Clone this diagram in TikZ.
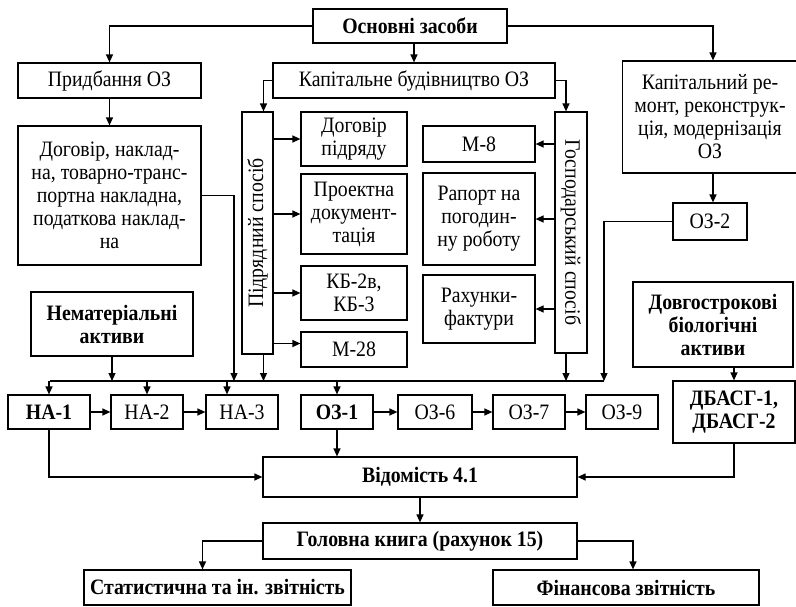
\documentclass[tikz,border=0pt]{standalone}
\usepackage{fontspec}
\setmainfont{Liberation Serif}[FakeStretch=0.9]
\usepackage{graphicx}
\usetikzlibrary{arrows.meta}

\begin{document}
\begin{tikzpicture}[x=1pt,y=-1pt,line width=1.2pt,>={Triangle[length=8pt,width=7pt]},
  box/.style={draw,align=center,inner sep=1pt,font=\fontsize{22}{23}\selectfont},
  bbox/.style={box,font=\fontsize{22}{23}\selectfont\bfseries}]
  \useasboundingbox (0,0) rectangle (796,606);
  % верхній рівень
  \node[bbox,minimum width=194,minimum height=34] (osn) at (410,26) {Основні засоби};
  \node[box,minimum width=183,minimum height=35] (prid) at (109.5,80.5) {Придбання ОЗ};
  \node[box,minimum width=183,minimum height=139] (dog) at (109.5,195.5)
    {Договір, наклад-\\на, товарно-транс-\\портна накладна,\\податкова наклад-\\на};
  \node[box,minimum width=282,minimum height=35] (kapbud) at (414,80.5) {Капітальне будівництво ОЗ};
  \node[box,minimum width=175,minimum height=112] (kaprem) at (710,117)
    {Капітальний ре-\\монт, реконструк-\\ція, модернізація\\ОЗ};
  \node[box,minimum width=74,minimum height=37] (oz2) at (710,221.5) {ОЗ-2};
  % підрядний спосіб
  \node[box,minimum width=31,minimum height=242] (pidr) at (257.5,233) {\rotatebox{90}{Підрядний спосіб}};
  \node[box,minimum width=106,minimum height=54] (dogpid) at (354,139) {Договір\\підряду};
  \node[box,minimum width=106,minimum height=80] (proekt) at (354,214) {Проектна\\документ-\\тація};
  \node[box,minimum width=106,minimum height=54] (kb) at (354,293) {КБ-2в,\\КБ-3};
  \node[box,minimum width=106,minimum height=35] (m28) at (354,349.5) {М-28};
  % господарський спосіб
  \node[box,minimum width=32,minimum height=241] (hosp) at (571,232.5) {\rotatebox{-90}{Господарський спосіб}};
  \node[box,minimum width=112,minimum height=36] (m8) at (479,144) {М-8};
  \node[box,minimum width=112,minimum height=92] (raport) at (479,219) {Рапорт на\\погодин-\\ну роботу};
  \node[box,minimum width=112,minimum height=68] (rakh) at (479,309) {Рахунки-\\фактури};
  % активи
  \node[bbox,minimum width=162,minimum height=64] (nema) at (112,324) {Нематеріальні\\активи};
  \node[bbox,minimum width=160,minimum height=85] (dba) at (713,324.5) {Довгострокові\\біологічні\\активи};
  \node[bbox,minimum width=122,minimum height=62] (dbasg) at (734,412) {ДБАСГ-1,\\ДБАСГ-2};
  % первинні документи
  \node[bbox,minimum width=82,minimum height=34] (na1) at (49,412) {НА-1};
  \node[box,minimum width=72,minimum height=34] (na2) at (147,412) {НА-2};
  \node[box,minimum width=72,minimum height=34] (na3) at (242,412) {НА-3};
  \node[bbox,minimum width=72,minimum height=34] (oz1) at (337,412) {ОЗ-1};
  \node[box,minimum width=74,minimum height=34] (oz6) at (435,412) {ОЗ-6};
  \node[box,minimum width=72,minimum height=34] (oz7) at (529,412) {ОЗ-7};
  \node[box,minimum width=72,minimum height=34] (oz9) at (622,412) {ОЗ-9};
  % зведення і звітність
  \node[bbox,minimum width=314,minimum height=40] (vid) at (420,477) {Відомість 4.1};
  \node[bbox,minimum width=314,minimum height=36] (hol) at (420,541) {Головна книга (рахунок 15)};
  \node[bbox,minimum width=267,minimum height=35] (stat) at (217.5,587.5) {Статистична та ін. звітність};
  \node[bbox,minimum width=266,minimum height=35] (fin) at (626,587.5) {Фінансова звітність};
  % шина
  \coordinate (busL) at (50,381);
  \coordinate (busR) at (604,381);
  \coordinate (dogbus) at (234,381);
  \coordinate (m28in) at ([yshift=6pt]m28.west);
  \draw (busL) -- (busR);
  % стрілки зверху
  \draw[->] (osn.west) -| (prid.north);
  \draw[->] (osn.east) -| ([xshift=3pt]kaprem.north);
  \draw[->] (osn.south -| kapbud.north) -- (kapbud.north);
  \draw[->] (prid.south) -- (dog.north);
  \draw[->] (kapbud.west) -| ([xshift=6pt]pidr.north);
  \draw[->] (kapbud.east) -| ([xshift=-5pt]hosp.north);
  \draw[->] ([xshift=3pt]kaprem.south) -- ([xshift=3pt]kaprem.south |- oz2.north);
  \draw[->] (pidr.east |- dogpid.west) -- (dogpid.west);
  \draw[->] (pidr.east |- proekt.west) -- (proekt.west);
  \draw[->] (pidr.east |- kb.west) -- (kb.west);
  \draw[->] (pidr.east |- m28in) -- (m28in);
  \draw[->] (hosp.west |- m8.east) -- (m8.east);
  \draw[->] (hosp.west |- raport.east) -- (raport.east);
  \draw[->] (hosp.west |- rakh.east) -- (rakh.east);
  % до шини
  \draw[->] (dog.east) -| (dogbus);
  \draw[->] (nema.south) -- (nema.south |- busL);
  \draw[->] ([xshift=6pt]pidr.south) -- ([xshift=6pt]pidr.south |- busL);
  \draw[->] ([xshift=-5pt]hosp.south) -- ([xshift=-5pt]hosp.south |- busL);
  \draw[->] (oz2.west) -| (busR);
  \draw[->] (dba.south -| dbasg.north) -- (dbasg.north);
  % від шини
  \draw[->] (na1.north |- busL) -- (na1.north);
  \draw[->] (na2.north |- busL) -- (na2.north);
  \draw[->] ([xshift=-15pt]na3.north |- busL) -- ([xshift=-15pt]na3.north);
  \draw[->] (oz1.north |- busL) -- (oz1.north);
  % ланцюжки
  \draw[->] (na1) -- (na2);
  \draw[->] (na2) -- (na3);
  \draw[->] (oz1) -- (oz6);
  \draw[->] (oz6) -- (oz7);
  \draw[->] (oz7) -- (oz9);
  % звітність
  \draw[->] (oz1.south) -- (oz1.south |- vid.north);
  \draw[->] (na1.south) |- (vid.west);
  \draw[->] (dbasg.south) |- (vid.east);
  \draw[->] (vid.south) -- (hol.north);
  \draw[->] (hol.west) -| ([xshift=-15pt]stat.north);
  \draw[->] (hol.east) -| ([xshift=7pt]fin.north);
\end{tikzpicture}
\end{document}
